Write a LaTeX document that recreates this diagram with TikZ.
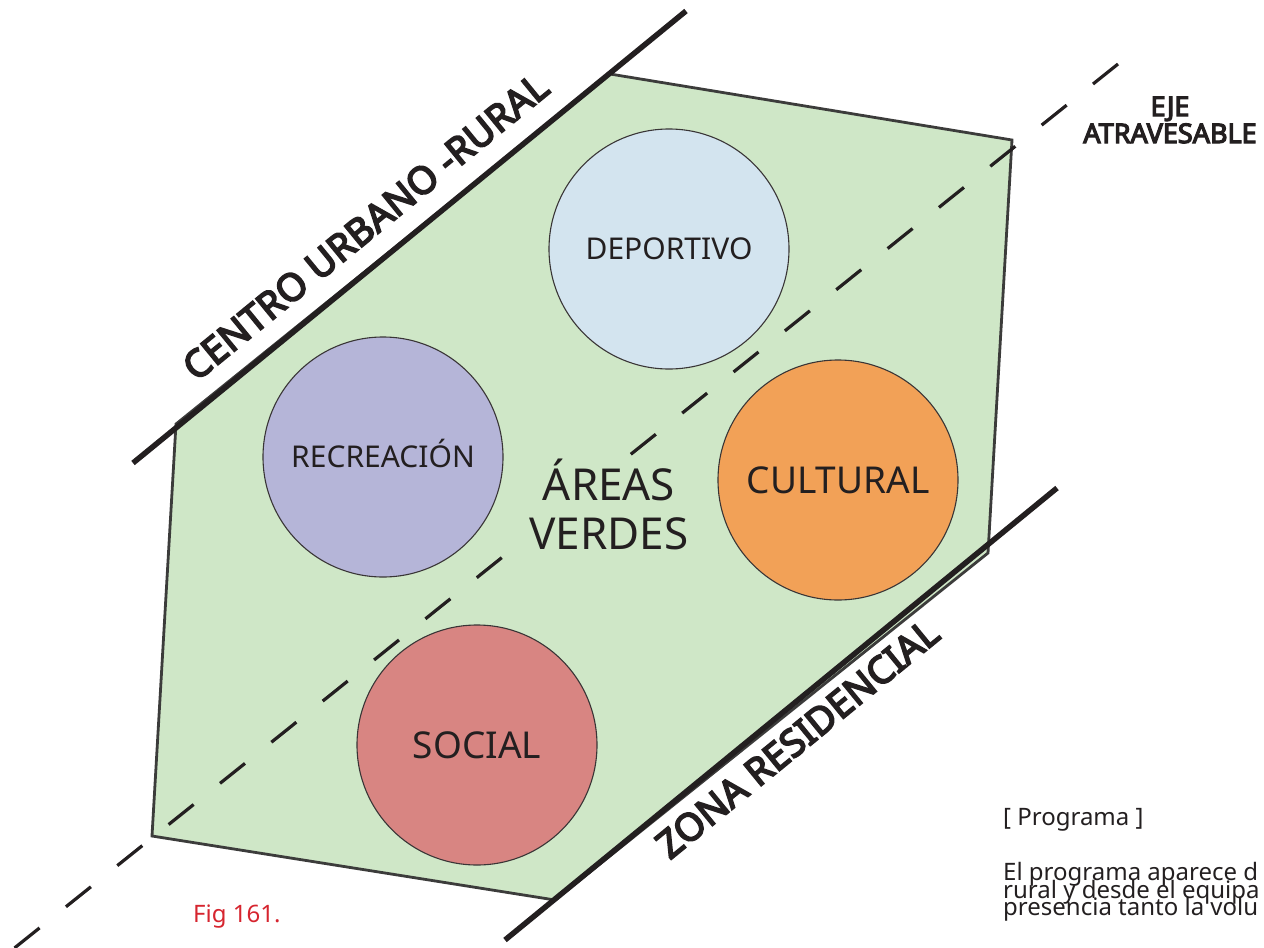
\documentclass[tikz,border=0pt]{standalone}
\usepackage{fontspec}
\setmainfont{Noto Sans}
\newfontfamily\heavy{Noto Sans}[AutoFakeBold=4.5]
\usepackage{xcolor}
\usepackage{tikz}
\usetikzlibrary{positioning}
\definecolor{ink}{HTML}{231F20}
\definecolor{edge}{HTML}{3C3C3B}
\definecolor{cVerde}{HTML}{CFE7C7}
\definecolor{cDep}{HTML}{D3E4EF}
\definecolor{cRec}{HTML}{B5B5D8}
\definecolor{cCul}{HTML}{F2A157}
\definecolor{cSoc}{HTML}{D88582}
\definecolor{cFig}{HTML}{D6252F}
\tikzset{
  lim/.style   = {draw=ink, line width=5.5pt},
  eje/.style   = {draw=ink, line width=3.2pt, dash pattern=on 32pt off 33.8pt},
  lote/.style  = {fill=cVerde, draw=edge, line width=2.8pt, line join=miter},
  area/.style  = {circle, draw=ink!90, line width=1.1pt, minimum size=240pt, inner sep=0pt, text=ink},
  side/.style  = {font=\heavy\bfseries\fontsize{38}{40}\selectfont, text=ink, inner sep=0pt, rotate=39.3, anchor=base},
  tag/.style   = {font=\heavy\bfseries\fontsize{27}{27}\selectfont, text=ink, align=center, inner sep=0pt},
  txt/.style   = {font=\fontsize{24}{28}\selectfont, text=ink, inner sep=0pt, anchor=base west},
}

\begin{document}
\begin{tikzpicture}[x=1pt, y=-1pt]
  \useasboundingbox (0,0) rectangle (1264,948);

  % ---------------- site ----------------
  \draw[lote] (610,74) -- (1012,140) -- (988,553) -- (555,900) -- (152,836) -- (176,424) -- cycle;

  % crossing axis
  \coordinate (ejeA) at (1118,64);
  \coordinate (ejeB) at (2,958);
  \draw[eje] (ejeA) -- (ejeB);

  % edges of the site
  \coordinate (urbA) at (133,463);
  \coordinate (urbB) at (686,11);
  \coordinate (resA) at (505,940);
  \coordinate (resB) at (1057,488);
  \draw[lim] (urbA) -- (urbB);
  \draw[lim] (resA) -- (resB);

  % ---------------- programme ----------------
  \node[area, fill=cDep, font=\fontsize{30}{34}\selectfont] (dep) at (669,249) {DEPORTIVO};
  \node[area, fill=cRec, font=\fontsize{30}{34}\selectfont, text height=21.5pt, text depth=0pt] (rec) at (383,457) {RECREACIÓN};
  \node[area, fill=cCul, font=\fontsize{37}{40}\selectfont] (cul) at (838,480) {CULTURAL};
  \node[area, fill=cSoc, font=\fontsize{37}{40}\selectfont] (soc) at (477,745) {SOCIAL};
  % the label masks the axis behind it
  \node[fill=cVerde, text=ink, align=center, font=\fontsize{44}{49}\selectfont, inner xsep=7pt, inner ysep=1pt] (ver) at (609,504) {ÁREAS\\VERDES};

  % ---------------- labels ----------------
  \node[side] (urb) at (374,237) {CENTRO URBANO -RURAL};
  \node[side] (res) at (806,749) {ZONA RESIDENCIAL};
  \node[tag] (eje) at (1170,120) {EJE\\ATRAVESABLE};

  \node[txt] (prog) at (1003,825.7) {[ Programa ]};
  \node[txt] (par1) at (1003,880.7) {El programa aparece d};
  \node[txt] (par2) at (1003,898) {rural y desde el equipa};
  \node[txt] (par3) at (1003,915.3) {presencia tanto la volu};
  \node[txt, text=cFig] (fig) at (193,922) {Fig 161.};
\end{tikzpicture}
\end{document}
